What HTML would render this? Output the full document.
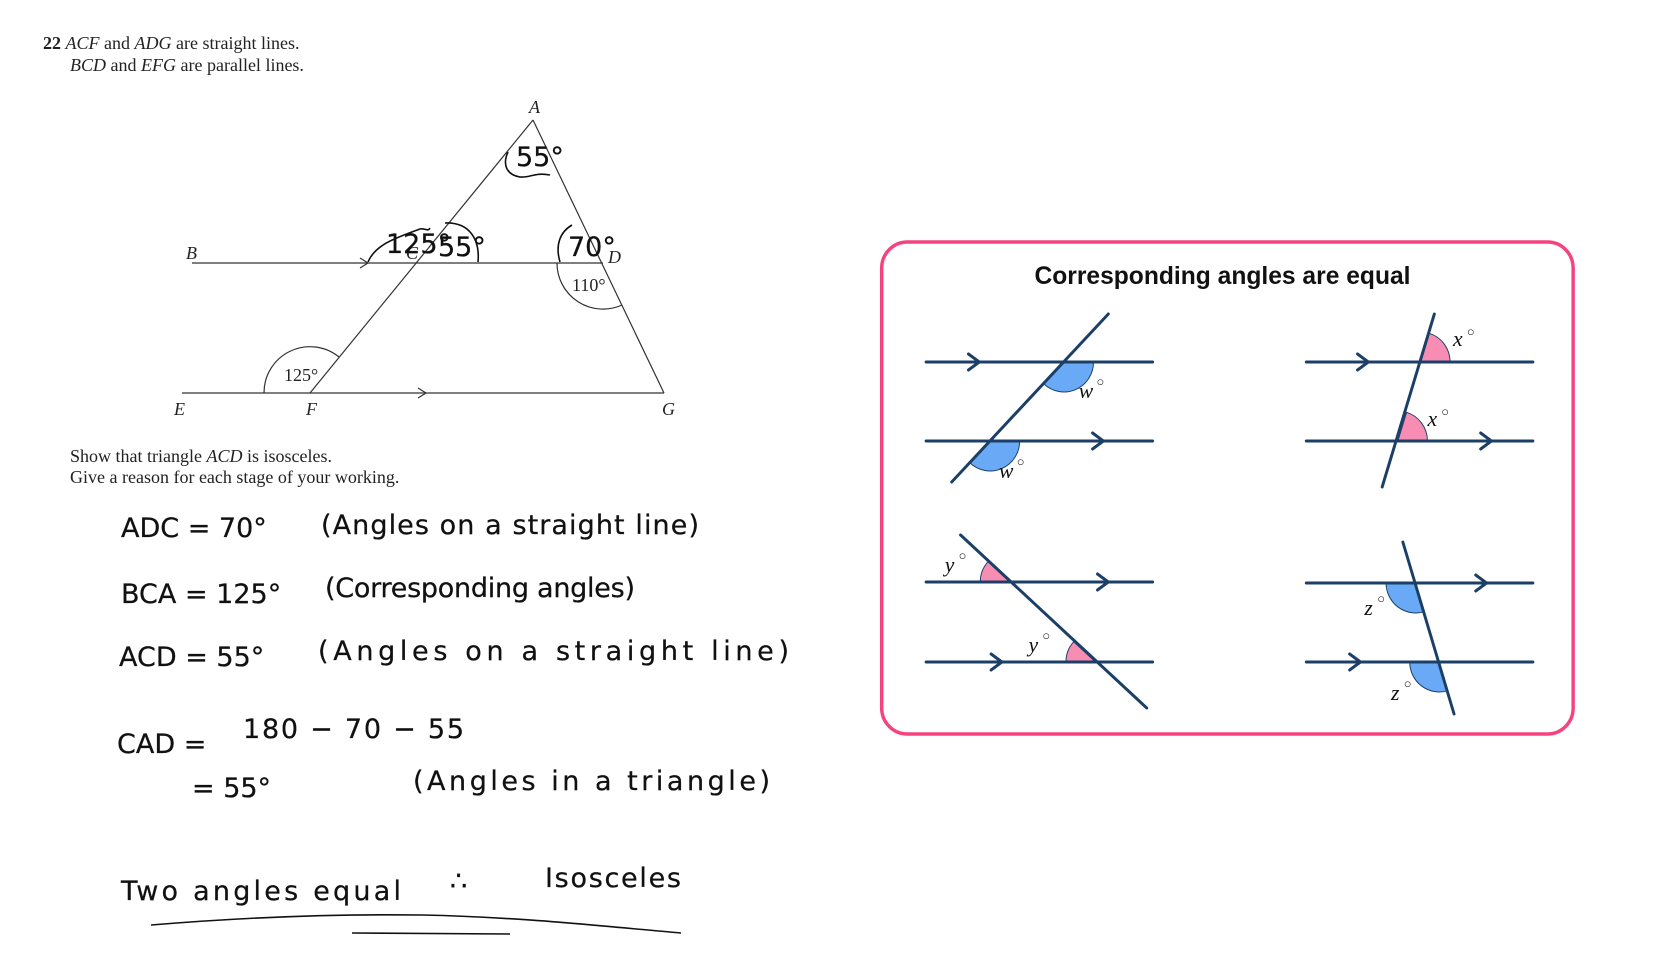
<!DOCTYPE html>
<html><head><meta charset="utf-8"><style>
html,body{margin:0;padding:0;background:#fff;width:1665px;height:967px;overflow:hidden}
svg{display:block}
.t{font-family:"Liberation Serif",serif;font-size:18px;fill:#222}
.h{font-family:"DejaVu Sans","Liberation Sans",sans-serif;font-size:27px;fill:#111;stroke:#111;stroke-width:0.25}
.m{font-family:"Liberation Serif",serif;font-style:italic;font-size:22px;fill:#111}
</style></head><body>
<svg width="1665" height="967" viewBox="0 0 1665 967" xmlns="http://www.w3.org/2000/svg">
<text class="t" x="43" y="49"><tspan font-weight="bold">22</tspan>  <tspan font-style="italic">ACF</tspan> and <tspan font-style="italic">ADG</tspan> are straight lines.</text>
<text class="t" x="70" y="71"><tspan font-style="italic">BCD</tspan> and <tspan font-style="italic">EFG</tspan> are parallel lines.</text>

<g stroke="#333" stroke-width="1.2" fill="none">
<line x1="192" y1="263" x2="603" y2="263"/>
<line x1="182" y1="393" x2="664" y2="393"/>
<line x1="533" y1="120" x2="310" y2="393"/>
<line x1="533" y1="120" x2="664" y2="393"/>
<polyline points="360,258 368,263 360,268"/>
<polyline points="418,388 426,393 418,398"/>
<path d="M264,393 A46,46 0 0 1 339,357"/>
<path d="M557,263 A46,46 0 0 0 622,305"/>
</g>
<g stroke="#111" stroke-width="1.6" fill="none">
<path d="M508,152 C502,165 507,175 520,177 C530,178 535,172 550,175"/>
<path d="M368,262 C375,245 395,238 420,229 C425,228 428,232 430,228"/>
<path d="M445,223 C470,222 480,240 478,262"/>
<path d="M560,262 C555,245 560,232 572,225"/>
</g>
<text class="t" x="529" y="113" font-style="italic">A</text>
<text class="t" x="186" y="259" font-style="italic">B</text>
<text class="t" x="406" y="259" font-style="italic" font-size="14">C</text>
<text class="t" x="608" y="263" font-style="italic">D</text>
<text class="t" x="174" y="415" font-style="italic">E</text>
<text class="t" x="306" y="415" font-style="italic">F</text>
<text class="t" x="662" y="415" font-style="italic">G</text>
<text class="t" x="284" y="381" font-size="16">125°</text>
<text class="t" x="572" y="291" font-size="16">110°</text>
<text class="h" x="516" y="166" font-size="17">55°</text>
<text class="h" x="386" y="253" font-size="14">125°</text>
<text class="h" x="438" y="256" font-size="17">55°</text>
<text class="h" x="568" y="256" font-size="17">70°</text>

<text class="t" x="70" y="462">Show that triangle <tspan font-style="italic">ACD</tspan> is isosceles.</text>
<text class="t" x="70" y="483">Give a reason for each stage of your working.</text>

<text class="h" x="121" y="537">ADC = 70°</text>
<text class="h" x="321" y="534" textLength="378" lengthAdjust="spacing">(Angles on a straight line)</text>
<text class="h" x="121" y="603">BCA = 125°</text>
<text class="h" x="325" y="597" textLength="310" lengthAdjust="spacing">(Corresponding angles)</text>
<text class="h" x="119" y="666">ACD = 55°</text>
<text class="h" x="318" y="660" textLength="471" lengthAdjust="spacing">(Angles on a straight line)</text>
<text class="h" x="117" y="753">CAD =</text>
<text class="h" x="243" y="738" textLength="221" lengthAdjust="spacing">180 − 70 − 55</text>
<text class="h" x="192" y="797">= 55°</text>
<text class="h" x="413" y="790" textLength="357" lengthAdjust="spacing">(Angles in a triangle)</text>
<text class="h" x="121" y="900" textLength="280" lengthAdjust="spacing">Two angles equal</text>
<text class="h" x="450" y="890">∴</text>
<text class="h" x="545" y="887" textLength="136" lengthAdjust="spacing">Isosceles</text>
<path d="M151,925 C260,916 350,914 422,915 C520,917 600,926 681,933" stroke="#111" stroke-width="1.6" fill="none"/>
<line x1="352" y1="933" x2="510" y2="934" stroke="#111" stroke-width="1.6"/>

<g transform="matrix(0.985 0 0 1 7 -3)">
<rect x="888" y="245" width="702" height="492" rx="26" fill="#fff" stroke="#f5437f" stroke-width="3.5"/>
<text x="1234" y="287" text-anchor="middle" font-family="Liberation Sans,sans-serif" font-weight="bold" font-size="25" fill="#111">Corresponding angles are equal</text>
</g>
<g transform="matrix(0.985 0 0 1 13 0)">
<g stroke="#1b3f66" stroke-width="1">
<path d="M1067,362 L1097,362 A30,30 0 0 1 1046.4,383.8 Z" fill="#6aa9f5"/>
<path d="M992,441 L1022,441 A30,30 0 0 1 971.4,462.8 Z" fill="#6aa9f5"/>
<path d="M1429,362 L1459,362 A30,30 0 0 0 1437.8,333.3 Z" fill="#f78db2"/>
<path d="M1406,441 L1436,441 A30,30 0 0 0 1414.8,412.3 Z" fill="#f78db2"/>
<path d="M1012,582 L982,582 A30,30 0 0 1 989.9,561.7 Z" fill="#f78db2"/>
<path d="M1099,662 L1069,662 A30,30 0 0 1 1076.9,641.7 Z" fill="#f78db2"/>
<path d="M1424,583 L1394,583 A30,30 0 0 0 1432.7,611.7 Z" fill="#6aa9f5"/>
<path d="M1448,662 L1418,662 A30,30 0 0 0 1456.7,690.7 Z" fill="#6aa9f5"/>
</g>
<g stroke="#1b3f66" stroke-width="3" fill="none" stroke-linecap="round">
<line x1="927" y1="362" x2="1157" y2="362"/><line x1="927" y1="441" x2="1157" y2="441"/>
<line x1="1112" y1="314" x2="953" y2="482"/>
<polyline points="970,354 981,362 970,370"/><polyline points="1096,433 1107,441 1096,449"/>
<line x1="1313" y1="362" x2="1543" y2="362"/><line x1="1313" y1="441" x2="1543" y2="441"/>
<line x1="1443" y1="314" x2="1390" y2="487"/>
<polyline points="1365,354 1376,362 1365,370"/><polyline points="1490,433 1501,441 1490,449"/>
<line x1="927" y1="582" x2="1157" y2="582"/><line x1="927" y1="662" x2="1157" y2="662"/>
<line x1="962" y1="535" x2="1151" y2="708"/>
<polyline points="1101,574 1112,582 1101,590"/><polyline points="993,654 1004,662 993,670"/>
<line x1="1313" y1="583" x2="1543" y2="583"/><line x1="1313" y1="662" x2="1543" y2="662"/>
<line x1="1411" y1="542" x2="1463" y2="714"/>
<polyline points="1485,575 1496,583 1485,591"/><polyline points="1357,654 1368,662 1357,670"/>
</g>
<g class="m">
<text x="1082" y="398">w</text><text x="1100" y="386" font-size="13" font-style="normal">○</text>
<text x="1001" y="478">w</text><text x="1019" y="466" font-size="13" font-style="normal">○</text>
<text x="1462" y="346">x</text><text x="1476" y="336" font-size="13" font-style="normal">○</text>
<text x="1436" y="426">x</text><text x="1450" y="416" font-size="13" font-style="normal">○</text>
<text x="946" y="572">y</text><text x="960" y="560" font-size="13" font-style="normal">○</text>
<text x="1031" y="652">y</text><text x="1045" y="640" font-size="13" font-style="normal">○</text>
<text x="1372" y="615">z</text><text x="1385" y="603" font-size="13" font-style="normal">○</text>
<text x="1399" y="700">z</text><text x="1412" y="688" font-size="13" font-style="normal">○</text>
</g>
</g>
</svg>
</body></html>
